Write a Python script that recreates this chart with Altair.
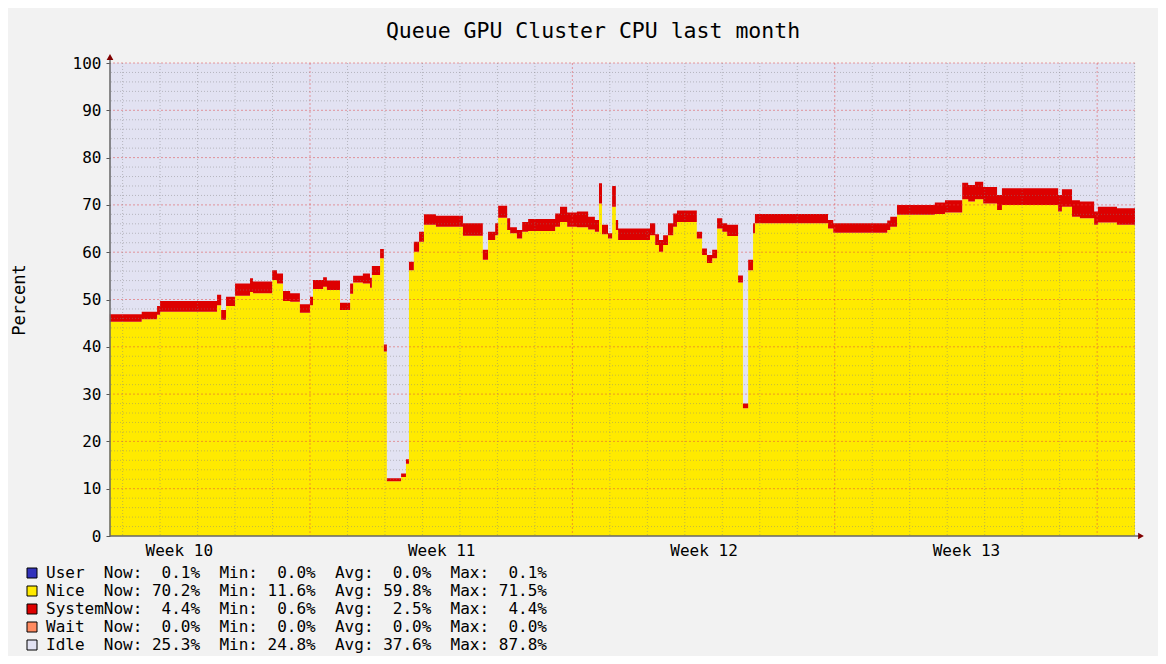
import altair as alt
import pandas as pd

# ---- data (x in days, gridline days are integers) ----
days = [-0.34, 0.51, 0.92, 1.00, 2.52, 2.63, 2.76, 3.00, 3.40, 3.48,
        3.99, 4.12, 4.28, 4.47, 4.73, 5.00, 5.08, 5.35, 5.45, 5.80,
        6.07, 6.15, 6.41, 6.60, 6.65, 6.87, 6.97, 7.05, 7.43, 7.56,
        7.64, 7.77, 7.91, 8.04, 8.36, 9.08, 9.61, 9.75, 9.94, 10.02,
        10.26, 10.34, 10.52, 10.66, 10.82, 11.54, 11.67, 11.86, 12.12, 12.42,
        12.60, 12.71, 12.79, 12.95, 13.06, 13.16, 13.22, 14.07, 14.21, 14.31,
        14.42, 14.55, 14.69, 14.79, 15.32, 15.46, 15.59, 15.73, 15.86, 16.00,
        16.13, 16.42, 16.55, 16.69, 16.82, 16.87, 18.82, 18.96, 20.40, 20.48,
        20.66, 21.67, 21.94, 22.40, 22.56, 22.74, 22.96, 23.33, 23.46, 24.96,
        25.06, 25.33, 25.54, 25.92, 26.02, 26.53, 27.01]
nice = [45.3, 45.8, 46.8, 47.4, 48.8, 45.7, 48.6, 50.8, 51.6, 51.3,
        54.1, 53.4, 49.7, 49.5, 47.2, 48.8, 52.2, 52.7, 52.0, 47.8,
        51.2, 53.6, 53.4, 52.5, 55.2, 58.7, 39.0, 11.6, 12.5, 15.3,
        56.2, 60.1, 62.2, 65.8, 65.4, 63.5, 58.4, 62.6, 63.6, 67.3,
        64.7, 64.0, 62.9, 64.3, 64.5, 65.4, 66.4, 65.4, 65.3, 64.8,
        64.3, 70.3, 63.8, 62.9, 69.6, 64.7, 62.6, 63.6, 61.5, 60.1,
        61.5, 63.6, 65.4, 66.4, 62.9, 59.4, 57.7, 58.7, 65.0, 64.3,
        63.4, 53.6, 27.0, 56.2, 64.0, 66.1, 65.0, 64.1, 64.7, 65.4,
        67.9, 68.1, 68.4, 71.2, 70.7, 71.2, 70.3, 68.9, 70.0, 68.6,
        69.6, 67.5, 67.2, 65.8, 66.3, 65.8, 65.8]
system = [1.6, 1.6, 1.8, 2.3, 2.2, 2.1, 2.0, 2.6, 2.9, 2.5,
          2.1, 2.1, 2.1, 1.8, 1.8, 1.8, 1.9, 2.0, 2.0, 1.5,
          2.2, 1.4, 2.1, 2.1, 1.9, 2.0, 1.5, 0.6, 0.7, 0.9,
          1.8, 2.1, 2.1, 2.2, 2.3, 2.6, 2.1, 1.7, 2.5, 2.5,
          2.5, 1.3, 1.8, 2.1, 2.5, 2.8, 3.2, 3.0, 3.3, 2.7,
          2.5, 4.3, 2.0, 1.1, 4.4, 2.1, 2.4, 2.5, 2.3, 2.5,
          2.1, 2.5, 2.8, 2.4, 1.4, 1.4, 1.7, 1.8, 2.2, 1.8,
          2.4, 1.5, 1.0, 2.2, 2.1, 2.0, 1.8, 2.0, 2.0, 2.1,
          2.1, 2.4, 2.6, 3.5, 3.5, 3.7, 3.5, 3.2, 3.5, 3.5,
          3.7, 3.5, 3.5, 2.8, 3.3, 3.5, 3.5]

week_pos = [1.5, 8.5, 15.5, 22.5]
week_labels = ["Week 10", "Week 11", "Week 12", "Week 13"]

legend_names = ["User", "Nice", "System", "Wait", "Idle"]
legend_now = [0.1, 70.2, 4.4, 0.0, 25.3]
legend_min = [0.0, 11.6, 0.6, 0.0, 24.8]
legend_avg = [0.0, 59.8, 2.5, 0.0, 37.6]
legend_max = [0.1, 71.5, 4.4, 0.0, 87.8]
legend_colors = ["#3333bb", "#ffea00", "#dd0000", "#ff8a60", "#e2e2f2"]

title_text = "Queue GPU Cluster CPU last month"
y_title = "Percent"

y_major = list(range(10, 101, 10))
y_minor = [v for v in range(2, 100, 2) if v % 10]
x_major = [5, 12, 19, 26]
x_minor = [d for d in range(0, 28) if d not in x_major]

X0, X1 = -0.336, 27.01
W, H = 1025, 473
MONO = "DejaVu Sans Mono"

# ---- build tables ----
rows = []
for d, n, s in zip(days, nice, system):
    rows.append({"day": d, "series": "Nice", "value": n, "order": 0})
    rows.append({"day": d, "series": "System", "value": s, "order": 1})
df = pd.DataFrame(rows)

label_expr = " : ".join(f"datum.value == {p} ? '{l}'" for p, l in zip(week_pos, week_labels)) + " : ''"

xscale = alt.Scale(domain=[X0, X1], nice=False, zero=False)
yscale = alt.Scale(domain=[0, 100], nice=False)

xaxis = alt.Axis(values=week_pos, labelExpr=label_expr, title=None, grid=False,
                 domain=False, ticks=False, labelFont=MONO, labelFontSize=16,
                 labelColor="#000000", labelPadding=6)
yaxis = alt.Axis(values=[0] + y_major, title=None, grid=False, domain=False,
                 tickSize=4, tickColor="#555555", labelFont=MONO, labelFontSize=16,
                 labelColor="#000000", labelPadding=5)

area = alt.Chart(df).mark_area(interpolate="step-after").encode(
    x=alt.X("day:Q", scale=xscale, axis=xaxis),
    y=alt.Y("value:Q", stack="zero", scale=yscale, axis=yaxis),
    color=alt.Color("series:N", scale=alt.Scale(domain=["Nice", "System"],
                                                range=["#ffea00", "#dd0000"]), legend=None),
    order=alt.Order("order:Q"),
)

hmin = alt.Chart(pd.DataFrame({"value": y_minor})).mark_rule(
    color="#808080", opacity=0.45, strokeDash=[1, 2], strokeWidth=1
).encode(y=alt.Y("value:Q", scale=yscale, axis=yaxis))
hmaj = alt.Chart(pd.DataFrame({"value": y_major})).mark_rule(
    color="#e04545", opacity=0.5, strokeDash=[2, 2], strokeWidth=1
).encode(y=alt.Y("value:Q", scale=yscale, axis=yaxis))
vmin = alt.Chart(pd.DataFrame({"day": x_minor})).mark_rule(
    color="#808080", opacity=0.45, strokeDash=[1, 2], strokeWidth=1
).encode(x=alt.X("day:Q", scale=xscale, axis=xaxis))
vmaj = alt.Chart(pd.DataFrame({"day": x_major})).mark_rule(
    color="#e04545", opacity=0.5, strokeDash=[2, 2], strokeWidth=1
).encode(x=alt.X("day:Q", scale=xscale, axis=xaxis))

one = pd.DataFrame({"k": [0]})
yaxis_line = alt.Chart(one).mark_rule(color="#666666", strokeWidth=1.5).encode(
    x=alt.value(0), y=alt.value(-6), y2=alt.value(H))
xaxis_line = alt.Chart(one).mark_rule(color="#666666", strokeWidth=1.5).encode(
    x=alt.value(0), x2=alt.value(W + 6), y=alt.value(H))
arrow_up = alt.Chart(one).mark_point(shape="triangle-up", filled=True, size=45,
                                     color="#800000", opacity=1).encode(
    x=alt.value(0), y=alt.value(-6))
arrow_right = alt.Chart(one).mark_point(shape="triangle-right", filled=True, size=45,
                                        color="#800000", opacity=1).encode(
    x=alt.value(W + 6), y=alt.value(H))

title = alt.Chart(pd.DataFrame({"t": [title_text]})).mark_text(
    font=MONO, fontSize=21.5, color="#000000", align="center", baseline="middle"
).encode(text="t:N", x=alt.value(593 - 110), y=alt.value(32 - 63))

ytitle = alt.Chart(pd.DataFrame({"t": [y_title]})).mark_text(
    font=MONO, fontSize=17, color="#000000", align="center", baseline="middle", angle=270
).encode(text="t:N", x=alt.value(20 - 110), y=alt.value(300 - 63))

layers = [area, hmin, hmaj, vmin, vmaj, yaxis_line, xaxis_line, arrow_up, arrow_right,
          title, ytitle]

row_y = [573, 591, 609, 627, 645]
for i, name in enumerate(legend_names):
    line = (f"{name:<6}Now:{legend_now[i]:5.1f}%  Min:{legend_min[i]:5.1f}%  "
            f"Avg:{legend_avg[i]:5.1f}%  Max:{legend_max[i]:5.1f}%").replace(" ", "\u00a0")
    yc = row_y[i] - 63
    sw = alt.Chart(one).mark_rect(color=legend_colors[i], stroke="#000000",
                                  strokeWidth=1).encode(
        x=alt.value(27 - 110), x2=alt.value(37 - 110),
        y=alt.value(yc - 5), y2=alt.value(yc + 5))
    tx = alt.Chart(pd.DataFrame({"t": [line]})).mark_text(
        font=MONO, fontSize=16, color="#000000", align="left", baseline="middle"
    ).encode(text="t:N", x=alt.value(46 - 110), y=alt.value(yc))
    layers += [sw, tx]

chart = alt.layer(*layers).properties(
    width=W, height=H,
    padding={"left": 102, "top": 55, "right": 23, "bottom": 120},
    autosize=alt.AutoSizeParams(type="none"),
    background="#f2f2f2",
).configure_view(fill="#e2e2f2", strokeWidth=0)

chart.save("out.html", embed_options={"renderer": "svg", "actions": False})
